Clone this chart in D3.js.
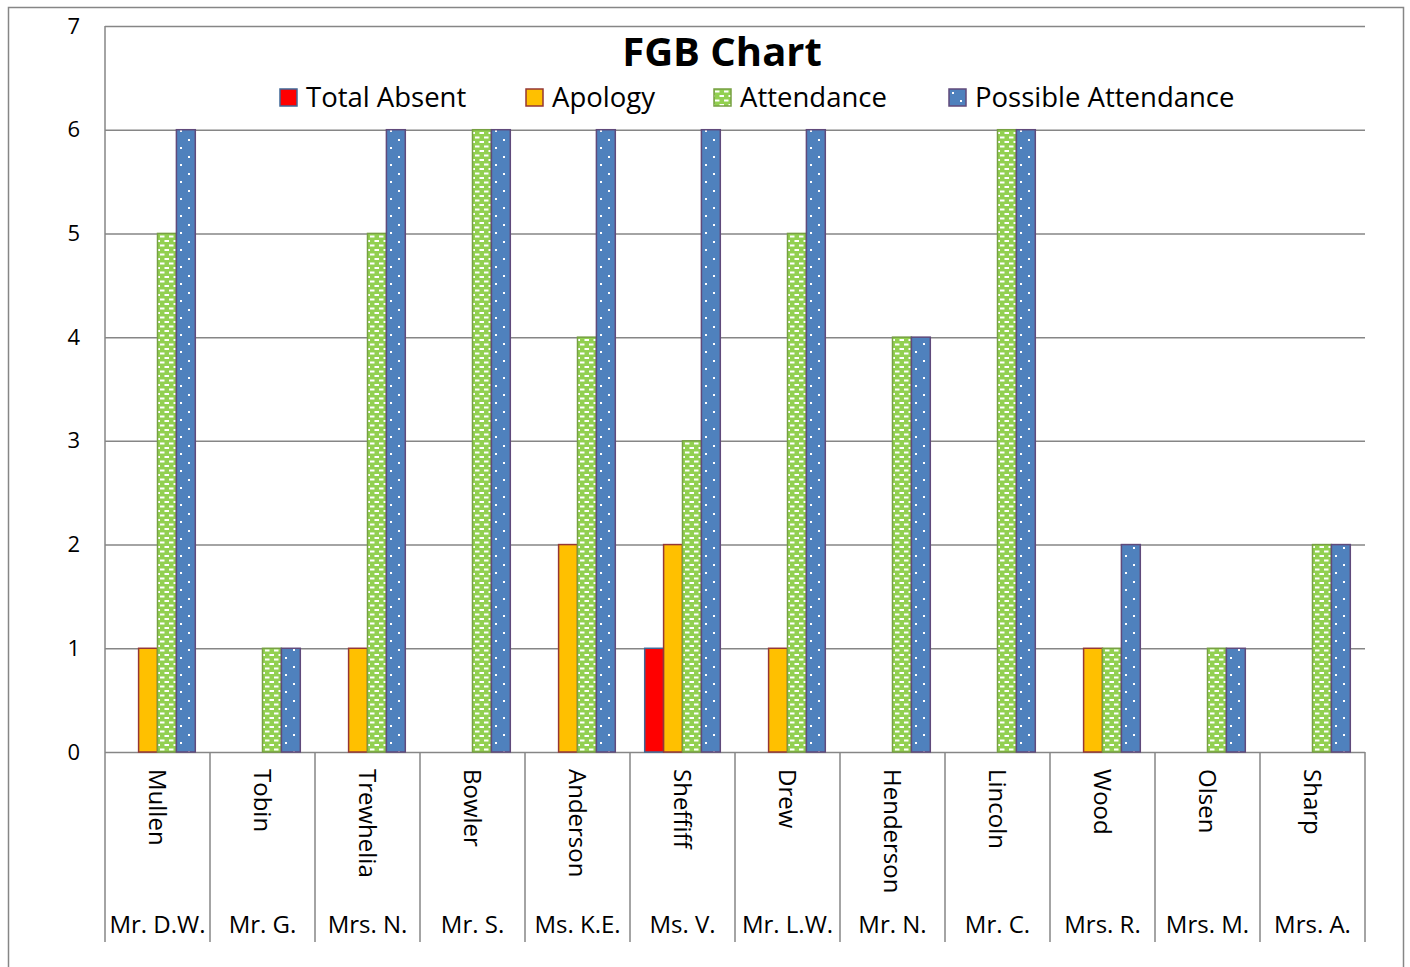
<!DOCTYPE html>
<html>
<head>
<meta charset="utf-8">
<script src="https://cdn.jsdelivr.net/npm/d3@7"></script>
<style>
  body { margin: 0; background: #fff; }
  svg text { font-family: "Open Sans", Lato, sans-serif; fill: #000; }
</style>
</head>
<body>
<div id="chart"></div>
<script>
// data
const surnames = ['Mullen', 'Tobin', 'Trewhelia', 'Bowler', 'Anderson', 'Sheffiff',
    'Drew', 'Henderson', 'Lincoln', 'Wood', 'Olsen', 'Sharp'];
const titles = ['Mr. D.W.', 'Mr. G.', 'Mrs. N.', 'Mr. S.', 'Ms. K.E.', 'Ms. V.',
    'Mr. L.W.', 'Mr. N.', 'Mr. C.', 'Mrs. R.', 'Mrs. M.', 'Mrs. A.'];
const seriesNames = ['Total Absent', 'Apology', 'Attendance', 'Possible Attendance'];
const totalAbsent = [0, 0, 0, 0, 0, 1, 0, 0, 0, 0, 0, 0];
const apology = [1, 0, 1, 0, 2, 2, 1, 0, 0, 1, 0, 0];
const attendance = [5, 1, 5, 6, 4, 3, 5, 4, 6, 1, 1, 2];
const possibleAttendance = [6, 1, 6, 6, 6, 6, 6, 4, 6, 2, 1, 2];
const yTicks = [0, 1, 2, 3, 4, 5, 6, 7];

const seriesValues = [totalAbsent, apology, attendance, possibleAttendance];

let getFill = function (i) {
    if (i === 0) return '#FF0000';
    else if (i === 1) return '#FFC000';
    else if (i === 2) return 'url(#patGreen)';
    else return 'url(#patBlue)';
}
let getStroke = function (i) {
    if (i === 0) return '#3F6797';
    else if (i === 1) return '#953735';
    else if (i === 2) return '#77A043';
    else return '#604A7B';
}

const W = 1410, H = 967;
const plot = { left: 105, right: 1365, top: 26, bottom: 752 };

const svg = d3.select('#chart').append('svg')
    .attr('width', W).attr('height', H);

// patterns
const defs = svg.append('defs');
const pg = defs.append('pattern').attr('id', 'patGreen')
    .attr('patternUnits', 'userSpaceOnUse').attr('width', 9).attr('height', 9);
pg.append('rect').attr('width', 9).attr('height', 9).attr('fill', '#92D050');
pg.append('rect').attr('x', 1).attr('y', 1.5).attr('width', 4.5).attr('height', 2).attr('fill', '#fff');
pg.append('rect').attr('x', 5.5).attr('y', 6).attr('width', 4.5).attr('height', 2).attr('fill', '#fff');
pg.append('rect').attr('x', -3.5).attr('y', 6).attr('width', 4.5).attr('height', 2).attr('fill', '#fff');

const pb = defs.append('pattern').attr('id', 'patBlue')
    .attr('patternUnits', 'userSpaceOnUse').attr('width', 16).attr('height', 17);
pb.append('rect').attr('width', 16).attr('height', 17).attr('fill', '#4F81BD');
pb.append('rect').attr('x', 3).attr('y', 3).attr('width', 2).attr('height', 2).attr('fill', '#fff');
pb.append('rect').attr('x', 11).attr('y', 11).attr('width', 2).attr('height', 2).attr('fill', '#fff');

// outer border
svg.append('rect')
    .attr('x', 8.5).attr('y', 7.5).attr('width', 1395).attr('height', 980)
    .attr('fill', 'none').attr('stroke', '#868686').attr('stroke-width', 1.5);

const y = d3.scaleLinear().domain([0, 7]).range([plot.bottom, plot.top]);
const x0 = d3.scaleBand().domain(surnames).range([plot.left, plot.right]);
const bw = x0.bandwidth();
const x1 = d3.scaleBand().domain(seriesNames).range([bw * 0.14, bw * 0.86]);

// gridlines
svg.append('g')
    .attr('transform', `translate(${plot.left},0)`)
    .call(d3.axisLeft(y).tickValues(yTicks).tickSize(-(plot.right - plot.left)).tickFormat(''))
    .call(g => g.select('.domain').remove())
    .call(g => g.selectAll('line').attr('stroke', '#868686').attr('stroke-width', 1.5));

// y labels
svg.append('g')
    .attr('transform', `translate(${plot.left},0)`)
    .call(d3.axisLeft(y).tickValues(yTicks).tickFormat(d3.format('d')).tickSize(0).tickPadding(25))
    .call(g => g.select('.domain').remove())
    .call(g => g.selectAll('text').style('font-size', '22px').style('font-family', '"Open Sans"'));

// left axis line
svg.append('line')
    .attr('x1', plot.left).attr('x2', plot.left)
    .attr('y1', plot.top).attr('y2', 942)
    .attr('stroke', '#868686').attr('stroke-width', 1.5);

// category separators
svg.append('g').selectAll('line')
    .data(surnames)
    .enter()
    .append('line')
    .attr('x1', d => x0(d) + bw).attr('x2', d => x0(d) + bw)
    .attr('y1', plot.bottom).attr('y2', 942)
    .attr('stroke', '#868686').attr('stroke-width', 1.5);

// bars
const groups = svg.append('g').selectAll('g')
    .data(surnames)
    .enter()
    .append('g')
    .attr('transform', d => `translate(${x0(d)},0)`);

groups.selectAll('rect')
    .data((d, ci) => seriesNames.map((s, si) => ({ s: s, si: si, v: seriesValues[si][ci] })).filter(e => e.v > 0))
    .enter()
    .append('rect')
    .attr('x', d => x1(d.s))
    .attr('y', d => y(d.v))
    .attr('width', x1.bandwidth())
    .attr('height', d => y(0) - y(d.v))
    .attr('fill', d => getFill(d.si))
    .attr('stroke', d => getStroke(d.si))
    .attr('stroke-width', 1.5);

// category labels (rotated surnames)
svg.append('g').selectAll('text')
    .data(surnames)
    .enter()
    .append('text')
    .attr('transform', d => `translate(${x0(d) + bw / 2},769) rotate(90)`)
    .attr('dy', '0.35em')
    .style('font-size', '24px')
    .text(d => d);

// second level labels
svg.append('g').selectAll('text')
    .data(titles)
    .enter()
    .append('text')
    .attr('x', (d, i) => x0(surnames[i]) + bw / 2)
    .attr('y', 933)
    .attr('text-anchor', 'middle')
    .style('font-size', '24px')
    .text(d => d);

// title
svg.append('text')
    .attr('x', 722).attr('y', 66)
    .attr('text-anchor', 'middle')
    .style('font-size', '40px')
    .style('font-weight', 'bold')
    .text('FGB Chart');

// legend
const legendX = [280, 526, 714, 949];
const legend = svg.append('g').selectAll('g')
    .data(seriesNames)
    .enter()
    .append('g')
    .attr('transform', (d, i) => `translate(${legendX[i]},89)`);
legend.append('rect')
    .attr('width', 17).attr('height', 17)
    .attr('fill', (d, i) => getFill(i))
    .attr('stroke', (d, i) => getStroke(i))
    .attr('stroke-width', 1.5);
legend.append('text')
    .attr('x', 26).attr('y', 18)
    .style('font-size', '27.5px')
    .text(d => d);
</script>
</body>
</html>
